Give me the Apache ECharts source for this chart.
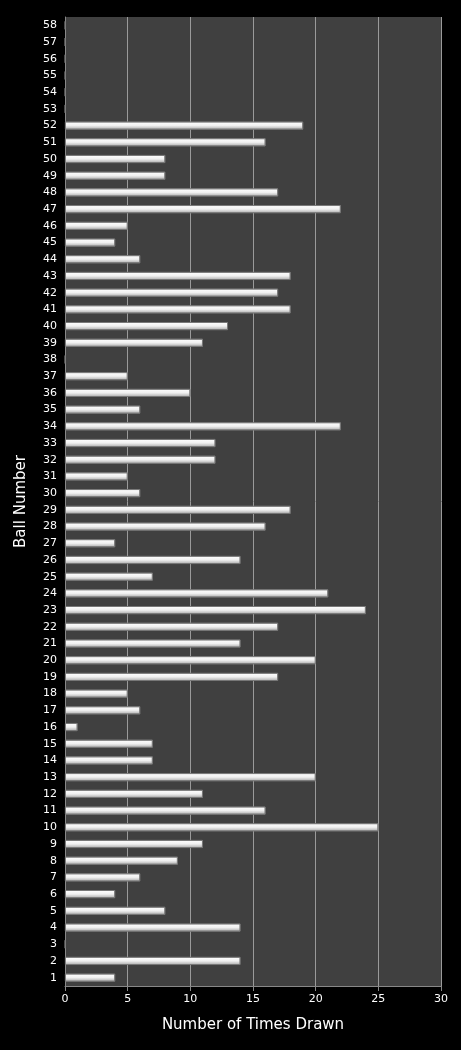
<!DOCTYPE html>
<html><head><meta charset="utf-8">
<script src="https://cdn.jsdelivr.net/npm/echarts@6/dist/echarts.min.js"></script>
<style>html,body{margin:0;background:#000;}#c{width:461px;height:1050px;}</style>
</head><body><div id="c"></div>
<script>
const balls = [];
for (let i = 1; i <= 58; i++) balls.push(String(i));
const timesDrawn = [4,14,0,14,8,4,6,9,11,25,16,11,20,7,7,1,6,5,17,20,14,17,24,21,7,14,4,16,18,6,5,12,12,22,6,10,5,0,11,13,18,17,18,6,4,5,22,17,8,8,16,19,0,0,0,0,0,0];
const xTicks = [0,5,10,15,20,25,30];
const chart = echarts.init(document.getElementById('c'));
chart.setOption({
  backgroundColor:'#000',
  grid:{left:65,right:20,top:17,bottom:64,backgroundColor:'#404040',show:true,borderWidth:0},
  xAxis:{type:'value',min:0,max:30,interval:5,
    name:'Number of Times Drawn',nameLocation:'middle',nameGap:32,
    nameTextStyle:{color:'#fff',fontSize:15,fontFamily:'DejaVu Sans'},
    axisLabel:{color:'#fff',fontSize:11,fontFamily:'DejaVu Sans'},
    axisLine:{show:true,lineStyle:{color:'#888'}},axisTick:{show:true,lineStyle:{color:'#888'}},
    splitLine:{lineStyle:{color:'#9a9a9a'}}},
  yAxis:{type:'category',data:balls,
    name:'Ball Number',nameLocation:'middle',nameGap:36,
    nameTextStyle:{color:'#fff',fontSize:15,fontFamily:'DejaVu Sans'},
    axisLabel:{color:'#fff',fontSize:11,fontFamily:'DejaVu Sans',interval:0},
    axisLine:{show:true,lineStyle:{color:'#888'}},axisTick:{show:false}},
  series:[{type:'bar',data:timesDrawn,barWidth:8,
    itemStyle:{borderColor:'#777',borderWidth:0.8,
      color:new echarts.graphic.LinearGradient(0,0,0,1,[
        {offset:0,color:'#ffffff'},{offset:0.5,color:'#f0f0f0'},{offset:1,color:'#a8a8a8'}])}}]
});
</script></body></html>
